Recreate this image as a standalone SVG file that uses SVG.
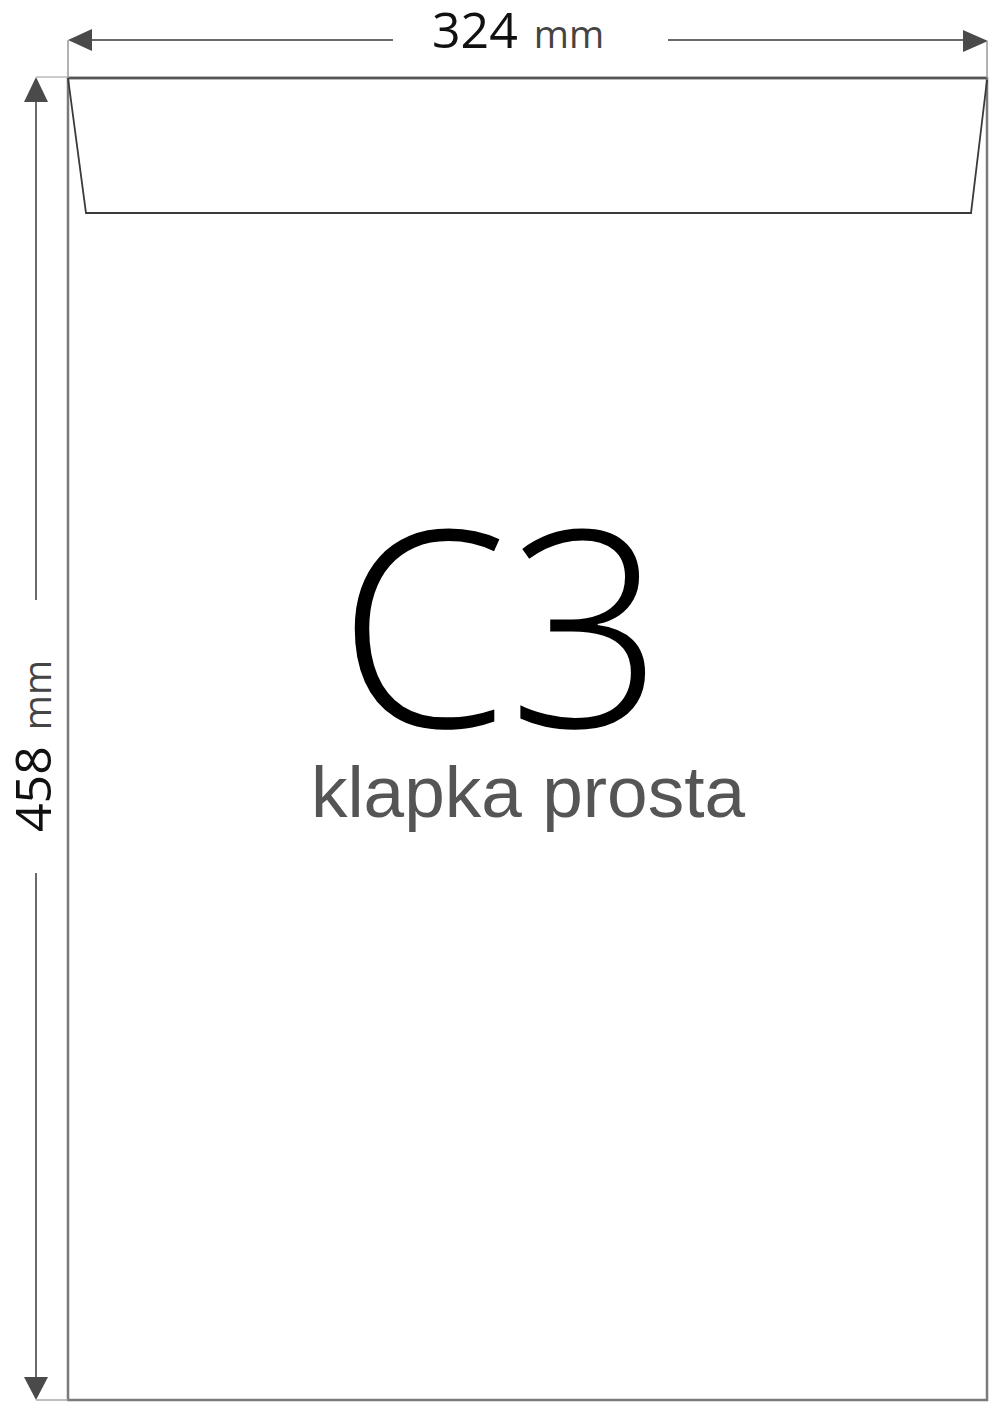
<svg xmlns="http://www.w3.org/2000/svg" width="1005" height="1422" viewBox="0 0 1005 1422">
<style>
.dim{stroke:#6a6a6a;stroke-width:2;fill:none}
.ah{fill:#4a4a4a}
.env{stroke:#7a7a7a;stroke-width:2.5;fill:#fff}
.flap{stroke:#3a3a3a;stroke-width:1.8;fill:none}
.num{font-family:"Open Sans",sans-serif;font-size:50px;fill:#111}
.unit{font-family:"Open Sans",sans-serif;font-size:38px;fill:#444}
</style>
<rect width="1005" height="1422" fill="#fff"/>
<g id="envelope">
<rect class="env" x="68" y="78" width="919" height="1322"/>
<line x1="68" y1="78" x2="987" y2="78" stroke="#555" stroke-width="2.5"/>
<polyline class="flap" points="68,78 86,213 971,213 987,80"/>
</g>
<g id="dimensions">
<line class="dim" x1="88" y1="40" x2="393" y2="40"/>
<line class="dim" x1="668" y1="40" x2="966" y2="40"/>
<polygon class="ah" points="68,40 92,29 92,51"/>
<polygon class="ah" points="988,41 963,30 963,52"/>
<line class="dim" x1="36" y1="98" x2="36" y2="600"/>
<line class="dim" x1="36" y1="873" x2="36" y2="1380"/>
<polygon class="ah" points="36,77 24,102 48,102"/>
<polygon class="ah" points="36,1400 24,1377 48,1377"/>
<line x1="36" y1="1400" x2="68" y2="1400" stroke="#aaa" stroke-width="1.5"/>
<line x1="36" y1="77" x2="68" y2="77" stroke="#bbb" stroke-width="1.5"/>
<line x1="68" y1="40" x2="68" y2="78" stroke="#999" stroke-width="1.5"/>
<line x1="987" y1="41" x2="987" y2="78" stroke="#999" stroke-width="1.5"/>
</g>
<g id="labels">
<text x="432" y="48"><tspan class="num">324</tspan><tspan class="unit" dx="16">mm</tspan></text>
<text transform="translate(51,832) rotate(-90)"><tspan class="num">458</tspan><tspan class="unit" dx="16">mm</tspan></text>
<text x="501" y="727" text-anchor="middle" font-family="'Open Sans',sans-serif" font-weight="300" font-size="274" fill="#000">C3</text>
<text x="528" y="817" text-anchor="middle" font-family="'Liberation Sans',Arial,sans-serif" font-size="73" fill="#555">klapka prosta</text>
</g>
</svg>
